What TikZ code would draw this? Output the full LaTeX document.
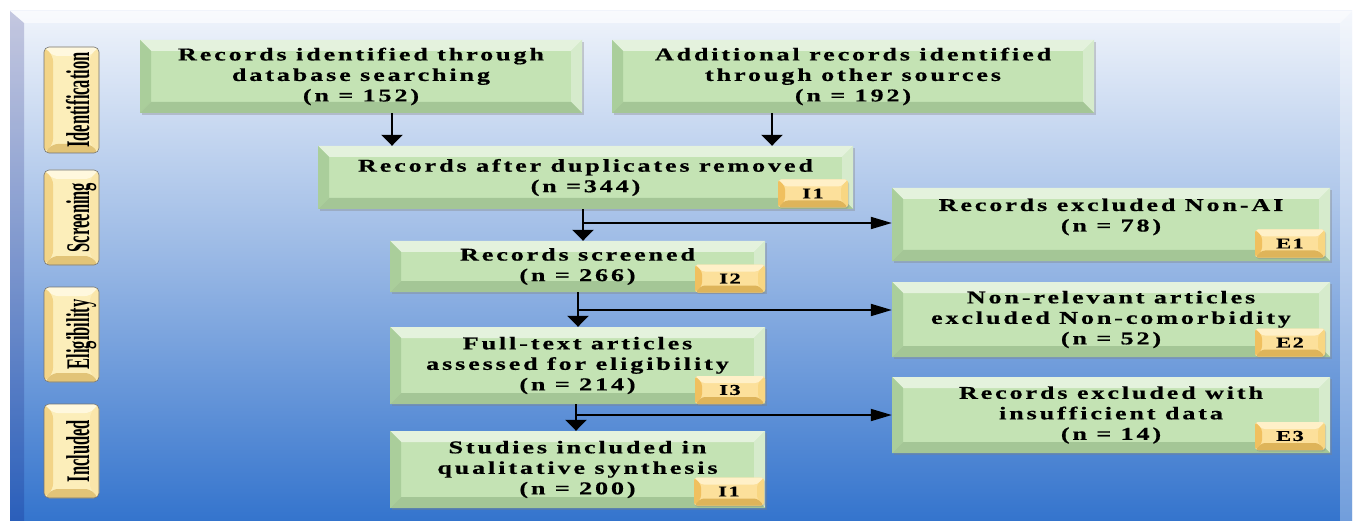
\documentclass[tikz,border=0pt]{standalone}
\usepackage{fontspec}
\usepackage{graphicx}
\setmainfont{Liberation Serif}
\newfontfamily\boxfont[FakeStretch=1.45,LetterSpace=16,FakeBold=0.6]{Liberation Serif Bold}
\newfontfamily\badgefont[FakeStretch=1.5,LetterSpace=10,FakeBold=0.5]{Liberation Serif Bold}
\newfontfamily\tabfont[FakeStretch=0.5]{Liberation Serif Bold}
\usetikzlibrary{arrows.meta,shadows,calc}

\definecolor{bgTop}{RGB}{240,244,251}
\definecolor{bgMid}{RGB}{150,182,228}
\definecolor{bgBot}{RGB}{52,116,205}
\definecolor{gmain}{RGB}{196,227,180}
\definecolor{gtop}{RGB}{228,242,221}
\definecolor{gleft}{RGB}{170,206,155}
\definecolor{gright}{RGB}{214,235,204}
\definecolor{gbot}{RGB}{164,198,150}
\definecolor{ymain}{RGB}{252,238,186}
\definecolor{ytop}{RGB}{255,248,222}
\definecolor{yleft}{RGB}{242,212,135}
\definecolor{yright}{RGB}{250,230,170}
\definecolor{ybot}{RGB}{226,196,120}
\definecolor{omain}{RGB}{252,224,155}
\definecolor{otop}{RGB}{255,240,200}
\definecolor{oleft}{RGB}{240,192,95}
\definecolor{oright}{RGB}{248,214,130}
\definecolor{obot}{RGB}{222,180,90}

\newcommand\bevelfill[5]{%
  \path (path picture bounding box.north west) coordinate (q1)
        (path picture bounding box.north east) coordinate (q2)
        (path picture bounding box.south east) coordinate (q3)
        (path picture bounding box.south west) coordinate (q4);
  \fill[#2] (q1) -- (q2) -- ([shift={(-#1,-#1)}]q2) -- ([shift={(#1,-#1)}]q1) -- cycle;
  \fill[#3] (q1) -- ([shift={(#1,-#1)}]q1) -- ([shift={(#1,#1)}]q4) -- (q4) -- cycle;
  \fill[#4] (q2) -- (q3) -- ([shift={(-#1,#1)}]q3) -- ([shift={(-#1,-#1)}]q2) -- cycle;
  \fill[#5] (q4) -- ([shift={(#1,#1)}]q4) -- ([shift={(-#1,#1)}]q3) -- (q3) -- cycle;
}

\tikzset{
  gbox/.style={rectangle, fill=gmain, inner sep=0pt, align=center,
    path picture={\bevelfill{11pt}{gtop}{gleft}{gright}{gbot}},
    drop shadow={shadow xshift=1.5pt, shadow yshift=-2pt, opacity=0.35},
    font=\boxfont\fontsize{18}{20.5}\selectfont},
  badge/.style={rectangle, rounded corners=3pt, fill=omain, inner sep=0pt,
    minimum width=70pt, minimum height=28pt,
    path picture={\bevelfill{7pt}{otop}{oleft}{oright}{obot}},
    drop shadow={shadow xshift=1pt, shadow yshift=-1.5pt, opacity=0.3},
    font=\badgefont\fontsize{15}{15}\selectfont},
  tab/.style={rectangle, rounded corners=5pt, draw=black!55, line width=0.6pt,
    fill=ymain, minimum width=55pt, inner sep=0pt,
    path picture={\bevelfill{9pt}{ytop}{yleft}{yright}{ybot}}},
  tabtxt/.style={rotate=90, anchor=base, inner sep=0pt,
    font=\tabfont\fontsize{33}{33}\selectfont},
  varr/.style={-{Triangle[width=21pt,length=11pt]}, line width=2.6pt},
  harr/.style={-{Triangle[width=12pt,length=21pt]}, line width=1.8pt}
}

\begin{document}
\begin{tikzpicture}[x=1pt,y=-1pt]
\useasboundingbox (0,0) rectangle (1356,521);
\fill[white] (0,0) rectangle (1356,521);
% background panel
\shade[top color=bgTop, bottom color=bgBot, middle color=bgMid] (10,11) rectangle (1352,521);
\fill[white, opacity=0.6] (10,11) -- (1352,11) -- (1340,23) -- (24,23) -- cycle;
\fill[black!60!blue, opacity=0.18] (10,11) -- (24,23) -- (24,521) -- (10,521) -- cycle;
\fill[white, opacity=0.3] (1352,11) -- (1352,521) -- (1340,521) -- (1340,23) -- cycle;

% phase tabs
\node[tab, minimum height=106pt] (t1) at (71.5,100) {};
\node[tab, minimum height=95pt] (t2) at (71.5,217.5) {};
\node[tab, minimum height=95pt] (t3) at (71.5,334.5) {};
\node[tab, minimum height=94pt] (t4) at (71.5,451) {};
\node[tabtxt] (t1x) at ([xshift=17.5pt]t1.center) {Identification};
\node[tabtxt] (t2x) at ([xshift=17.5pt]t2.center) {Screening};
\node[tabtxt] (t3x) at ([xshift=17.5pt]t3.center) {Eligibility};
\node[tabtxt] (t4x) at ([xshift=17.5pt]t4.center) {Included};

% boxes
\node[gbox, minimum width=442pt, minimum height=73pt] (b1) at (361,76.5)
  {Records identified through\\database searching\\(n = 152)};
\node[gbox, minimum width=482pt, minimum height=73pt] (b2) at (853,76.5)
  {Additional records identified\\through other sources\\(n = 192)};
\node[gbox, minimum width=535pt, minimum height=63pt] (b3) at (585.5,177.5)
  {Records after duplicates removed\\(n =344)};
\node[gbox, minimum width=375pt, minimum height=51pt] (b4) at (577.5,266.5)
  {Records screened\\(n = 266)};
\node[gbox, minimum width=375pt, minimum height=77pt] (b5) at (577.5,365.5)
  {Full-text articles\\assessed for eligibility\\(n = 214)};
\node[gbox, minimum width=375pt, minimum height=77pt] (b6) at (577.5,469.5)
  {Studies included in\\qualitative synthesis\\(n = 200)};
\node[gbox, minimum width=438pt, minimum height=73pt, text depth=19pt] (b7) at (1111,224.5)
  {Records excluded Non-AI\\(n = 78)};
\node[gbox, minimum width=438pt, minimum height=75pt] (b8) at (1111,319.5)
  {Non-relevant articles\\excluded Non-comorbidity\\(n = 52)};
\node[gbox, minimum width=438pt, minimum height=76pt] (b9) at (1111,415)
  {Records excluded with\\insufficient data\\(n = 14)};

% badges
\node[badge] (k1) at (813,193.5) {I1};
\node[badge] (k2) at (730,278.5) {I2};
\node[badge] (k3) at (730,390) {I3};
\node[badge] (k4) at (729,491.5) {I1};
\node[badge] (e1) at (1290,243.5) {E1};
\node[badge] (e2) at (1290,342.5) {E2};
\node[badge] (e3) at (1290,436) {E3};

% connectors
\coordinate (a1) at (392,0);
\coordinate (a2) at (772,0);
\coordinate (a3) at (583,0);
\coordinate (a4) at (578,0);
\coordinate (a5) at (576,0);
\coordinate (j1) at (583,223);
\coordinate (j2) at (578,310);
\coordinate (j3) at (576,415);
\draw[varr] (b1.south -| a1) -- (b3.north -| a1);
\draw[varr] (b2.south -| a2) -- (b3.north -| a2);
\draw[varr] (b3.south -| a3) -- (b4.north -| a3);
\draw[varr] (b4.south -| a4) -- (b5.north -| a4);
\draw[varr] (b5.south -| a5) -- (b6.north -| a5);
\draw[harr] (j1) -- (j1 -| b7.west);
\draw[harr] (j2) -- (j2 -| b8.west);
\draw[harr] (j3) -- (j3 -| b9.west);
\end{tikzpicture}
\end{document}
